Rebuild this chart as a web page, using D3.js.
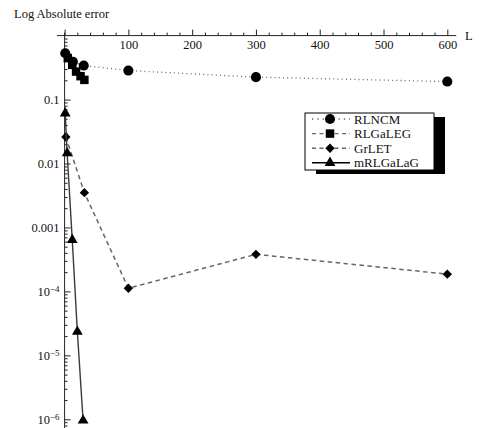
<!DOCTYPE html>
<html>
<head>
<meta charset="utf-8">
<script src="https://cdn.jsdelivr.net/npm/d3@7"></script>
<style>
  html, body { margin: 0; padding: 0; background: #fff; }
  svg { display: block; }
  svg text { font-family: "Liberation Serif", "Times New Roman", Times, serif !important; fill: #111; }
</style>
</head>
<body>
<svg id="chart" width="479" height="428"></svg>
<script>
// Error versus L for four methods (log scale)
const rlncmL   = [1, 13, 30, 100, 300, 600];
const rlncmErr = [0.53, 0.39, 0.34, 0.284, 0.224, 0.191];

const rlgalegL   = [5, 12, 18, 25, 31];
const rlgalegErr = [0.445, 0.349, 0.274, 0.232, 0.203];

const grletL   = [2, 31, 100, 300, 600];
const grletErr = [0.026, 0.0035, 1.12e-4, 3.8e-4, 1.86e-4];

const mrlgalagL   = [1, 4, 12, 20, 29];
const mrlgalagErr = [0.061, 0.0145, 6.4e-4, 2.35e-5, 9.6e-7];

const seriesNames = ["RLNCM", "RLGaLEG", "GrLET", "mRLGaLaG"];
const xTickValues = [0, 100, 200, 300, 400, 500, 600];
const yTickValues = [0.1, 0.01, 0.001, 1e-4, 1e-5, 1e-6];
const yTickLabels = ["0.1", "0.01", "0.001", "10|\u22124", "10|\u22125", "10|\u22126"];

const series = [
  { name: seriesNames[0], L: rlncmL,    err: rlncmErr,    dash: "1,3.2", color: "#666", width: 1.3, shape: "circle" },
  { name: seriesNames[1], L: rlgalegL,  err: rlgalegErr,  dash: "4,3.5", color: "#666", width: 1.4, shape: "square" },
  { name: seriesNames[2], L: grletL,    err: grletErr,    dash: "4.5,3.5", color: "#666", width: 1.5, shape: "diamond" },
  { name: seriesNames[3], L: mrlgalagL, err: mrlgalagErr, dash: null,   color: "#3a3a3a", width: 1.4, shape: "triangle" }
];

const serif = '"Liberation Serif", "Times New Roman", Times, serif';
const svg = d3.select("#chart");

const x = d3.scaleLinear().domain([0, 600]).range([64.6, 447.3]);
const y = d3.scaleLog().domain([1e-6, 1]).range([419.3, 35.6]);

const axisY = y(1);
const axisX = x(0);

// marker shapes (diamond = square turned 45 degrees)
const symbolFor = {
  circle:   { gen: d3.symbol().type(d3.symbolCircle).size(80), rot: 0 },
  square:   { gen: d3.symbol().type(d3.symbolSquare).size(72), rot: 0 },
  diamond:  { gen: d3.symbol().type(d3.symbolSquare).size(44), rot: 45 },
  triangle: { gen: d3.symbol().type(d3.symbolTriangle).size(50), rot: 0 }
};

// ---- axes ----
const fontSize = "12.5px";

// x axis: ticks pointing up, labels below
const xMinor = d3.range(0, 601, 20).filter(v => v % 100 !== 0);
const gxMinor = svg.append("g").attr("transform", `translate(0,${axisY})`)
  .call(d3.axisBottom(x).tickValues(xMinor).tickSizeInner(-3).tickSizeOuter(0).tickFormat(""));
gxMinor.select(".domain").remove();

const gx = svg.append("g").attr("transform", `translate(0,${axisY})`)
  .call(d3.axisBottom(x).tickValues(xTickValues).tickSizeInner(-6).tickSizeOuter(0)
    .tickPadding(5).tickFormat(d => d === 0 ? "" : d));
gx.attr("font-family", serif);
gx.select(".domain").attr("d", `M${x(-12)},0H${x(614)}`);
gx.selectAll("text").style("font-size", fontSize).attr("fill", "#111");

// y axis: ticks pointing right, labels left
const yMinor = [];
for (let e = -7; e <= 0; e++) {
  for (let m = 2; m <= 9; m++) {
    const v = m * Math.pow(10, e);
    if (v > 7.5e-7 && v < 1) yMinor.push(v);
  }
}
const gyMinor = svg.append("g").attr("transform", `translate(${axisX},0)`)
  .call(d3.axisLeft(y).tickValues(yMinor).tickSizeInner(-3).tickSizeOuter(0).tickFormat(""));
gyMinor.select(".domain").remove();

const gy = svg.append("g").attr("transform", `translate(${axisX},0)`)
  .call(d3.axisLeft(y).tickValues(yTickValues).tickSizeInner(-6).tickSizeOuter(0).tickPadding(5)
    .tickFormat(() => ""));
gy.attr("font-family", serif);
gy.select(".domain").attr("d", `M0,${axisY - 3}V428`);
gy.selectAll(".tick").each(function(d, i) {
  const parts = yTickLabels[i].split("|");
  const t = d3.select(this).select("text")
    .style("font-size", fontSize).attr("fill", "#111").attr("x", -5);
  t.append("tspan").text(parts[0]);
  if (parts.length > 1) {
    t.append("tspan").text(parts[1]).attr("dy", "-0.45em").style("font-size", "9px");
  }
});

svg.selectAll(".tick line, .domain").attr("stroke", "#222").attr("stroke-width", 1);

// axis titles
svg.append("text").attr("x", 14).attr("y", 18).attr("font-family", serif)
  .style("font-size", "12.5px").text("Log Absolute error");
svg.append("text").attr("x", 465).attr("y", 40).attr("font-family", serif)
  .style("font-size", "12.5px").text("L");

// ---- series ----
const line = d3.line().x(d => x(d[0])).y(d => y(d[1]));

series.forEach(s => {
  const pts = s.L.map((l, i) => [l, s.err[i]]);
  const sym = symbolFor[s.shape];
  const g = svg.append("g");
  g.append("path").datum(pts).attr("d", line)
    .attr("fill", "none").attr("stroke", s.color).attr("stroke-width", s.width)
    .attr("stroke-dasharray", s.dash);
  g.selectAll("path.mark").data(pts).join("path").attr("class", "mark")
    .attr("transform", d => `translate(${x(d[0])},${y(d[1])}) rotate(${sym.rot})`)
    .attr("d", sym.gen).attr("fill", "#000");
});

// ---- legend ----
const lg = svg.append("g").attr("transform", "translate(305,113)");
const lw = 129, lh = 57;
lg.append("rect").attr("x", 11).attr("y", 4).attr("width", lw).attr("height", lh).attr("fill", "#000");
lg.append("rect").attr("x", 0).attr("y", 0).attr("width", lw).attr("height", lh)
  .attr("fill", "#fff").attr("stroke", "#000").attr("stroke-width", 1);

series.forEach((s, i) => {
  const ry = 6 + i * 14.6;
  const sym = symbolFor[s.shape];
  const row = lg.append("g").attr("transform", `translate(0,${ry})`);
  row.append("line").attr("x1", 7).attr("x2", 45).attr("y1", 0).attr("y2", 0)
    .attr("stroke", s.dash ? s.color : "#000").attr("stroke-width", s.width)
    .attr("stroke-dasharray", s.dash ? (s.shape === "circle" ? "1.3,4" : "4,3.5") : null);
  row.append("path").attr("transform", `translate(25,0) rotate(${sym.rot})`)
    .attr("d", sym.gen).attr("fill", "#000");
  row.append("text").attr("x", 49).attr("y", 0).attr("dy", "0.35em")
    .attr("font-family", serif).style("font-size", "13px").text(s.name);
});
</script>
</body>
</html>
